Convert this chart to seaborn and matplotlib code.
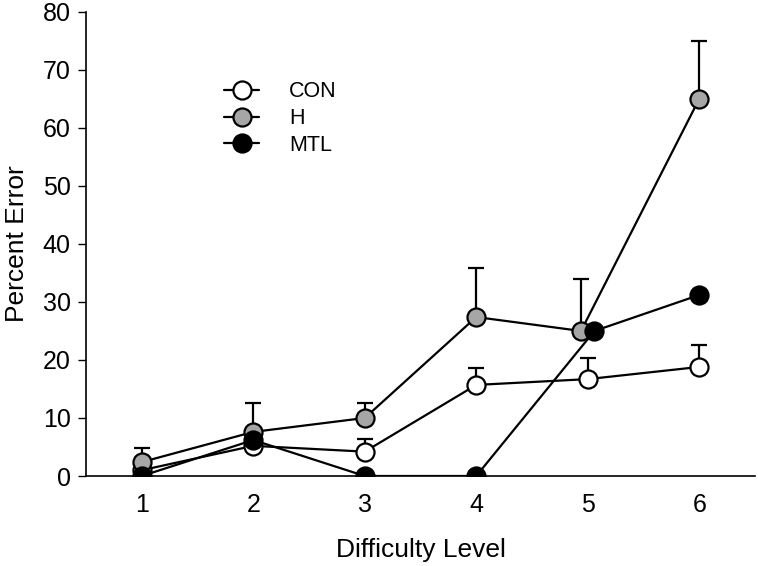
import matplotlib
matplotlib.use("Agg")
import matplotlib.pyplot as plt
from matplotlib.lines import Line2D
import seaborn as sns
import pandas as pd
import numpy as np

levels = [1, 2, 3, 4, 5, 6]
# small horizontal shifts used in the original to keep overlapping points apart
shift_h = [0, 0, 0, 0, -0.06, 0]
shift_mtl = [0, 0, 0, 0, 0.06, 0]

con = [1.0, 5.2, 4.2, 15.7, 16.7, 18.8]
con_err = [0.0, 0.0, 2.2, 3.0, 3.7, 3.8]
h = [2.4, 7.6, 10.0, 27.4, 25.0, 65.0]
h_err = [2.4, 5.0, 2.6, 8.5, 8.9, 10.0]
mtl = [0.0, 6.2, 0.0, 0.0, 25.0, 31.2]
mtl_err = [0.0, 0.0, 0.0, 0.0, 0.0, 0.0]

groups = ["CON", "H", "MTL"]
faces = ["white", "#a6a6a6", "black"]

df = pd.concat([
    pd.DataFrame({"level": levels, "pct": con, "se": con_err, "group": "CON"}),
    pd.DataFrame({"level": np.add(levels, shift_h), "pct": h, "se": h_err, "group": "H"}),
    pd.DataFrame({"level": np.add(levels, shift_mtl), "pct": mtl, "se": mtl_err, "group": "MTL"}),
])

sns.set_style("ticks")
plt.rcParams["font.family"] = ["Liberation Sans", "DejaVu Sans"]
plt.rcParams["text.color"] = "black"
plt.rcParams["axes.labelcolor"] = "black"
plt.rcParams["xtick.color"] = "black"
plt.rcParams["ytick.color"] = "black"
plt.rcParams["axes.edgecolor"] = "black"

fig = plt.figure(figsize=(7.58, 5.66), dpi=100)
ax = fig.add_axes([0.1135, 0.159, 0.8825, 0.82])

for i, (g, fc) in enumerate(zip(groups, faces)):
    d = df[df["group"] == g]
    ax.errorbar(d["level"], d["pct"], yerr=[np.zeros(len(d)), d["se"].values], fmt="none",
                ecolor="black", elinewidth=1.6, capsize=6, capthick=1.6, zorder=2 + i)
    sns.lineplot(data=d, x="level", y="pct", color="black", linewidth=1.6,
                 marker="o", markersize=13, markerfacecolor=fc,
                 markeredgecolor="black", markeredgewidth=1.6,
                 ax=ax, zorder=2 + i, legend=False)

ax.set_xlim(0.5, 6.5)
ax.set_ylim(0, 80)
ax.set_yticks(range(0, 81, 10))
ax.set_xticks(levels)
ax.tick_params(axis="y", direction="out", length=6, width=1, labelsize=18, pad=5)
ax.tick_params(axis="x", length=0, labelsize=18, pad=12)
ax.set_xlabel("Difficulty Level", fontsize=19, labelpad=15)
ax.set_ylabel("Percent Error", fontsize=19, labelpad=10)
for s in ["top", "right"]:
    ax.spines[s].set_visible(False)
for s in ["left", "bottom"]:
    ax.spines[s].set_linewidth(1.2)

handles = [Line2D([], [], color="black", linewidth=1.6, marker="o", markersize=13,
                  markerfacecolor=fc, markeredgecolor="black", markeredgewidth=1.6)
           for fc in faces]
ax.legend(handles, groups, loc="upper left", bbox_to_anchor=(0.178, 0.892),
          frameon=False, fontsize=15.5, handlelength=1.6, handletextpad=1.4,
          labelspacing=0.27)

fig.savefig("out.png", dpi=100)
